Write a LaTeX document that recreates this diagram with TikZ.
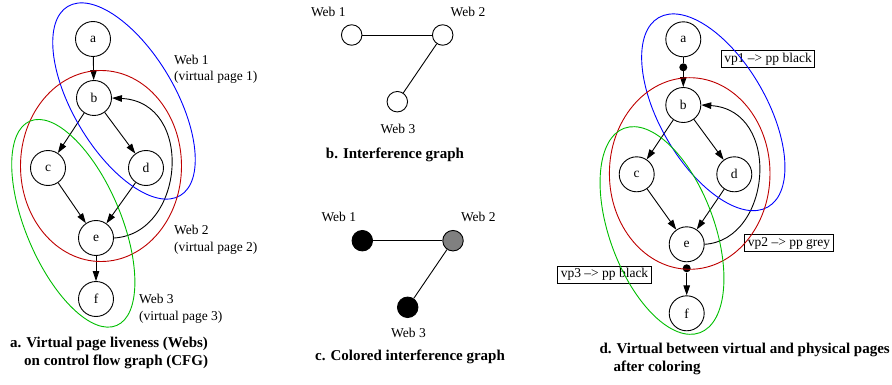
\documentclass[tikz,border=0pt]{standalone}
\usepackage{fontspec}
\setmainfont{Liberation Serif}
\usetikzlibrary{arrows.meta}
\definecolor{wblue}{RGB}{0,0,255}
\definecolor{wred}{RGB}{190,0,0}
\definecolor{wgreen}{RGB}{0,190,0}
\definecolor{wgrey}{RGB}{128,128,128}
\begin{document}
\begin{tikzpicture}[x=1pt,y=-1pt,
  every node/.style={font=\fontsize{13.5}{16}\selectfont},
  cfg/.style={draw,circle,minimum size=35pt,inner sep=0pt,line width=0.9pt},
  ig/.style={draw,circle,minimum size=20.5pt,inner sep=0pt,line width=0.9pt},
  dotn/.style={circle,fill=black,minimum size=8pt,inner sep=0pt},
  vpbox/.style={draw,line width=1pt,inner xsep=3pt,inner ysep=1.5pt,minimum height=17pt},
  edge/.style={line width=0.9pt,-{Triangle[length=10pt,width=6.5pt]}},
  plain/.style={line width=0.9pt},
  web/.style={line width=0.9pt},
  captext/.style={font=\fontsize{15}{18}\selectfont\bfseries,align=left},
  lbl/.style={align=left,anchor=west,inner sep=0pt}
]
\useasboundingbox (0,0) rectangle (892,385);

% ---------- panel a ----------
\node[cfg] (a1) at (93,39) {a};
\node[cfg] (b1) at (94,98) {b};
\node[cfg] (c1) at (48,168) {c};
\node[cfg] (d1) at (146,168) {d};
\node[cfg] (e1) at (96,238) {e};
\node[cfg] (f1) at (96,299) {f};
\draw[edge] (a1) -- (b1);
\draw[edge] (b1) -- (c1);
\draw[edge] (b1) -- (d1);
\draw[edge] (c1) -- (e1);
\draw[edge] (d1) -- (e1);
\draw[edge] (e1) -- (f1);
\draw[edge] (e1.east) .. controls (185,234) and (195,102) .. (b1.east);
\draw[web,wblue,rotate around={-59.3:(124,101)}] (124,101) ellipse [x radius=110pt,y radius=51pt];
\draw[web,wred] (101,166) ellipse [x radius=80.5pt,y radius=95.5pt];
\draw[web,wgreen,rotate around={-67:(73.3,223.3)}] (73.3,223.3) ellipse [x radius=111pt,y radius=47.5pt];
\node[lbl] (w1a) at (174,60) {Web 1};
\node[lbl] (w1b) at (174,77) {(virtual page 1)};
\node[lbl] (w2a) at (174,230) {Web 2};
\node[lbl] (w2b) at (174,248) {(virtual page 2)};
\node[lbl] (w3a) at (139,299) {Web 3};
\node[lbl] (w3b) at (139,317) {(virtual page 3)};
\node[captext,anchor=north west,inner sep=0pt] (capa) at (10,337) {a. Virtual page liveness (Webs)\\\hspace*{14pt}on control flow graph (CFG)};

% ---------- panel b ----------
\node[ig] (bw1) at (351.7,35) {};
\node[ig] (bw2) at (442.7,35) {};
\node[ig] (bw3) at (397.3,101.7) {};
\draw[plain] (bw1) -- (bw2);
\draw[plain] (bw2) -- (bw3);
\node (lbw1) at (328.3,11.7) {Web 1};
\node (lbw2) at (468,12) {Web 2};
\node (lbw3) at (398,129) {Web 3};
\node[captext] (capb) at (395,155) {b. Interference graph};

% ---------- panel c ----------
\node[ig,fill=black] (cw1) at (362.3,240.7) {};
\node[ig,fill=wgrey] (cw2) at (453,240.7) {};
\node[ig,fill=black] (cw3) at (407.7,307.3) {};
\draw[plain] (cw1) -- (cw2);
\draw[plain] (cw2) -- (cw3);
\node (lcw1) at (338.8,217.3) {Web 1};
\node (lcw2) at (478.3,217.3) {Web 2};
\node (lcw3) at (408.5,333.3) {Web 3};
\node[captext] (capc) at (410,357) {c. Colored interference graph};

% ---------- panel d ----------
\node[vpbox] (vp1) at (768,59) {vp1 \textendash{}> pp black};
\node[vpbox] (vp2) at (789,243.3) {vp2 \textendash{}> pp grey};
\node[vpbox] (vp3) at (604.5,274.7) {vp3 \textendash{}> pp black};
\node[cfg] (a2) at (683.3,39.3) {a};
\node[cfg] (b2) at (683.3,105) {b};
\node[cfg] (c2) at (636.7,174.3) {c};
\node[cfg] (d2) at (734.3,174.3) {d};
\node[cfg] (e2) at (686.7,244.3) {e};
\node[cfg] (f2) at (686.7,313.3) {f};
\node[dotn] (p1) at (683.3,67.3) {};
\node[dotn] (p2) at (686.7,268.3) {};
\draw[plain] (a2) -- (p1);
\draw[edge] (p1) -- (b2);
\draw[edge] (b2) -- (c2);
\draw[edge] (b2) -- (d2);
\draw[edge] (c2) -- (e2);
\draw[edge] (d2) -- (e2);
\draw[edge] (p2) -- (f2);
\draw[edge] (e2.east) .. controls (772,240) and (782,110) .. (b2.east);
\draw[web,wblue,rotate around={-60:(713.3,112.3)}] (713.3,112.3) ellipse [x radius=109.3pt,y radius=53.5pt];
\draw[web,wred] (689.7,173.5) ellipse [x radius=80.3pt,y radius=95.8pt];
\draw[web,wgreen,rotate around={-69.7:(662,230.5)}] (662,230.5) ellipse [x radius=109pt,y radius=52.3pt];
\node[captext,anchor=north west,inner sep=0pt] (capd) at (599.3,342.5) {d. Virtual between virtual and physical pages\\\hspace*{14pt}after coloring};
\end{tikzpicture}
\end{document}
